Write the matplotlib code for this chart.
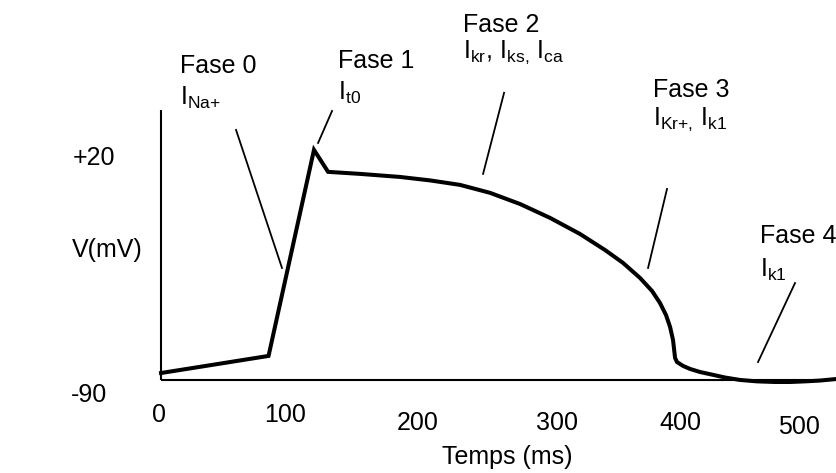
import matplotlib.pyplot as plt

plt.rcParams['font.family'] = 'Liberation Sans'
plt.rcParams['mathtext.fontset'] = 'custom'
plt.rcParams['mathtext.rm'] = 'Liberation Sans'

# potentiel d'action (temps en ms, tension en mV)
t_ms = [0, 84, 119.5, 130.5, 155.5, 186.7, 210.2, 233.6, 257.0, 280.5, 303.9,
        327.3, 346.9, 360.9, 374.2, 383.6, 389.8, 394.5, 397.7, 400.0, 401.6,
        403.1, 407.8, 413.3, 421.1, 431.3, 440.6, 452.3, 465.6, 479.7, 491.4,
        503.1, 514.8, 528.1]
v_mV = [-86.6, -78.2, 23.0, 12.2, 11.2, 9.7, 8.0, 5.8, 1.9, -3.6, -10.4,
        -18.3, -26.2, -32.5, -39.9, -46.3, -52.2, -58.1, -64.0, -70.4, -79.2,
        -81.2, -83.1, -84.6, -86.1, -87.5, -88.8, -90.0, -90.7, -91.0, -91.0,
        -90.7, -90.3, -89.5]

# traits qui relient chaque phase a la courbe
phase_t = [[58.6, 94.5], [133.6, 122.7], [268.0, 251.6], [395.3, 380.5], [495.3, 466.4]]
phase_v = [[32.8, -35.0], [42.1, 26.4], [51.0, 11.2], [3.8, -35.0], [-42.4, -81.2]]
phase_titles = ['Fase 0', 'Fase 1', 'Fase 2', 'Fase 3', 'Fase 4']
phase_courants = [r'$\mathregular{I_{Na{+}}}$', r'$\mathregular{I_{t0}}$',
                  r'$\mathregular{I_{kr}}$, $\mathregular{I_{ks{,}}}$ $\mathregular{I_{ca}}$',
                  r'$\mathregular{I_{Kr{+}{,}}}$ $\mathregular{I_{k1}}$',
                  r'$\mathregular{I_{k1}}$']

xticks = [0, 100, 200, 300, 400, 500]
yticks = ['+20', '-90']

# placement des textes (le dessin d'origine est fait a la main)
title_pos = [(14.8, 60.8), (138.3, 63.2), (235.9, 80.9), (384.4, 49.0), (468.0, -22.7)]
courant_v = [45.1, 47.5, 68.2, 35.2, -39.4]
xtick_pos = [(-1.6, -110.6), (96.9, -110.6), (200.8, -114.6), (309.4, -114.6),
             (405.5, -114.6), (498.4, -116.5)]
ytick_pos = [(-35.9, 15.6), (-42.2, -100.8)]

fig = plt.figure(figsize=(8.37, 4.73), dpi=100)
ax = fig.add_axes([0, 0, 1, 1])
ax.set_xlim(-125.8, 528.1)
ax.set_ylim(-135.7, 96.6)
ax.axis('off')

# axes dessines a la main
ax.plot([0, 0], [-90, 42.6], color='black', lw=1.5, solid_capstyle='butt')
ax.plot([0, 528.1], [-90, -90], color='black', lw=1.5, solid_capstyle='butt')

ax.plot(t_ms, v_mV, color='black', lw=2.9, solid_joinstyle='miter')

for i in range(len(phase_titles)):
    ax.plot(phase_t[i], phase_v[i], color='black', lw=1.3)
    x0, y0 = title_pos[i]
    ax.text(x0, y0, phase_titles[i], fontsize=18, va='baseline', ha='left')
    ax.text(x0, courant_v[i], phase_courants[i], fontsize=18, va='baseline', ha='left')

for lab, (x, y) in zip(xticks, xtick_pos):
    ax.text(x, y, str(lab), fontsize=18, ha='center', va='baseline')
for lab, (x, y) in zip(yticks, ytick_pos):
    ax.text(x, y, lab, fontsize=18, ha='right', va='baseline')

ax.text(-69.5, -29.6, 'V(mV)', fontsize=18, ha='left', va='baseline')
ax.text(270.3, -131.3, 'Temps (ms)', fontsize=18, ha='center', va='baseline')

fig.savefig('out.png', dpi=100)
